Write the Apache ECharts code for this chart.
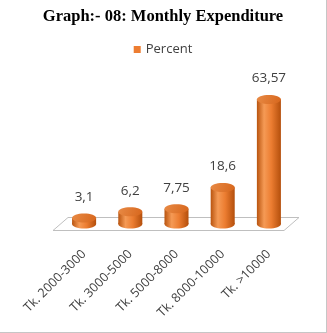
<!DOCTYPE html>
<html>
<head>
<meta charset="utf-8">
<script src="https://cdn.jsdelivr.net/npm/echarts@6/dist/echarts.min.js"></script>
<style>
  html, body { margin: 0; padding: 0; background: #fff; }
  #chart {
    width: 327px;
    height: 333px;
    box-sizing: border-box;
    border-right: 1px solid #c6c6c6;
    border-bottom: 1px solid #c6c6c6;
  }
</style>
</head>
<body>
<div id="chart"></div>
<script>
// 数据
const categories = ['Tk. 2000-3000', 'Tk. 3000-5000', 'Tk. 5000-8000', 'Tk. 8000-10000', 'Tk. >10000']
const percentValues = [3.1, 6.2, 7.75, 18.6, 63.57]
const seriesName = 'Percent'

const chart = echarts.init(document.getElementById('chart'))

// 圆柱体渐变
const bodyFill = new echarts.graphic.LinearGradient(0, 0, 1, 0, [
  { offset: 0, color: '#b9540f' },
  { offset: 0.3, color: '#f59a55' },
  { offset: 0.6, color: '#ec7d31' },
  { offset: 1, color: '#b44f0c' }
])
const topFill = new echarts.graphic.LinearGradient(0, 0, 1, 1, [
  { offset: 0, color: '#e88a45' },
  { offset: 1, color: '#d7661c' }
])

// 3D 底板
function renderFloor(params, api) {
  const cs = params.coordSys
  const y0 = api.coord([0, 0])[1]
  const l = cs.x, r = cs.x + cs.width
  return {
    type: 'polygon',
    shape: {
      points: [
        [l - 8, y0 + 6.5], [r - 8, y0 + 6.5],
        [r + 7, y0 - 6.5], [l + 7, y0 - 6.5]
      ]
    },
    style: { fill: '#fff', stroke: '#bfbfbf', lineWidth: 1 },
    silent: true
  }
}

// 圆柱
function renderCylinder(params, api) {
  const idx = api.value(0)
  const val = api.value(1)
  const top = api.coord([idx, val])
  const base = api.coord([idx, 0])
  const w = api.size([1, 0])[0] * 0.52
  const rx = w / 2, ry = 4.5
  const cx = top[0]
  return {
    type: 'group',
    children: [
      { type: 'rect', shape: { x: cx - rx, y: top[1], width: w, height: base[1] - top[1] }, style: { fill: bodyFill } },
      { type: 'ellipse', shape: { cx: cx, cy: base[1], rx: rx, ry: ry }, style: { fill: bodyFill } },
      { type: 'ellipse', shape: { cx: cx, cy: top[1], rx: rx, ry: ry }, style: { fill: topFill } },
      {
        type: 'text',
        x: cx, y: top[1] - 21,
        style: {
          text: String(val).replace('.', ','),
          fill: '#404040',
          font: '13.5px "Open Sans", sans-serif',
          align: 'center',
          verticalAlign: 'middle'
        }
      }
    ]
  }
}

chart.setOption({
  animation: false,
  title: {
    text: 'Graph:- 08: Monthly Expenditure',
    left: 'center',
    top: 3,
    textStyle: { fontFamily: '"Liberation Serif", serif', fontWeight: 'bold', fontSize: 16.5, color: '#000' }
  },
  legend: {
    data: [{ name: seriesName, icon: 'rect' }],
    top: 38,
    left: 'center',
    itemWidth: 7,
    itemHeight: 7,
    itemGap: 5,
    textStyle: { fontFamily: '"Open Sans", sans-serif', fontSize: 13, color: '#404040' }
  },
  grid: { left: 61, right: 34, top: 87, bottom: 108 },
  xAxis: {
    type: 'category',
    data: categories,
    axisLine: { show: false },
    axisTick: { show: false },
    axisLabel: {
      rotate: 45,
      margin: 28,
      interval: 0,
      fontFamily: '"Open Sans", sans-serif',
      fontSize: 12.6,
      color: '#404040'
    }
  },
  yAxis: { type: 'value', min: 0, max: 70, show: false, splitLine: { show: false } },
  series: [
    {
      type: 'custom',
      name: 'floor',
      renderItem: renderFloor,
      data: [[0, 0]],
      z: 1,
      silent: true,
      legendHoverLink: false
    },
    {
      type: 'custom',
      name: seriesName,
      itemStyle: { color: '#ed7d31' },
      renderItem: renderCylinder,
      encode: { x: 0, y: 1 },
      data: percentValues.map((v, i) => [i, v]),
      z: 2
    }
  ]
})
</script>
</body>
</html>
